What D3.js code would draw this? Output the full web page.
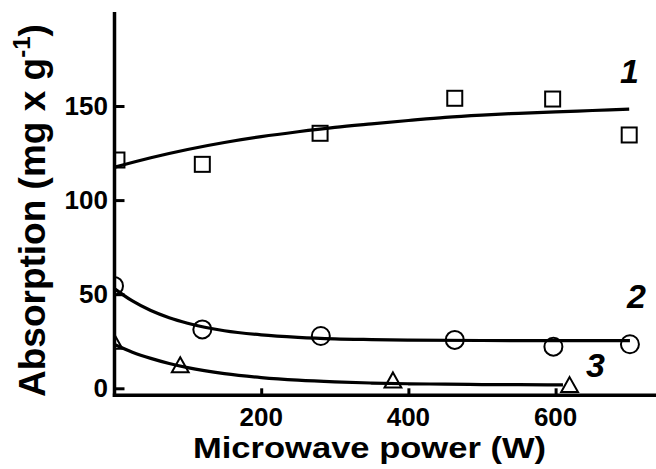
<!DOCTYPE html>
<html>
<head>
<meta charset="utf-8">
<script src="https://cdn.jsdelivr.net/npm/d3@7"></script>
<style>
  html, body { margin: 0; padding: 0; background: #fff; }
  svg { display: block; }
  text { font-family: "Liberation Sans", Arial, sans-serif; font-weight: bold; fill: #000; }
</style>
</head>
<body>
<svg id="chart" width="656" height="469"></svg>
<script>
// ---- data ----
const xTicks = [200, 400, 600];
const yTicks = [0, 50, 100, 150];

// series 1 (squares)
const power1 = [4, 120, 280, 463, 596, 700];
const abs1   = [121.3, 119.0, 135.5, 154.1, 153.7, 134.6];
// series 2 (circles)
const power2 = [0, 120, 281, 463, 597, 701];
const abs2   = [54.4, 31.3, 27.8, 25.7, 22.1, 23.4];
// series 3 (triangles)
const power3 = [0, 90, 379, 619];
const abs3   = [24.9, 12.4, 4.4, 1.9];

// fitted curves
const fitPower1 = [0, 50, 100, 150, 200, 250, 300, 350, 400, 450, 500, 550, 600, 650, 700];
const fitAbs1   = [117.4, 122.5, 126.9, 130.6, 133.7, 136.3, 138.6, 140.5, 142.3, 144.0, 145.2, 146.1, 146.9, 147.6, 148.3];
const fitPower2 = [0, 25, 50, 75, 100, 150, 200, 250, 300, 350, 400, 500, 600, 701];
const fitAbs2   = [53.1, 46.4, 41.3, 37.5, 34.6, 30.6, 28.4, 27.1, 26.3, 25.9, 25.6, 25.4, 25.3, 25.3];
const fitPower3 = [0, 25, 50, 75, 100, 150, 200, 250, 300, 350, 400, 450, 500, 550, 610];
const fitAbs3   = [23.4, 19.2, 15.9, 13.2, 11.0, 7.8, 5.7, 4.3, 3.4, 2.8, 2.4, 2.2, 2.0, 1.9, 1.8];

const curveLabels = ["1", "2", "3"];

// ---- layout ----
const svg = d3.select("#chart");
const x = d3.scaleLinear().domain([0, 700]).range([114, 629.2]);
const y = d3.scaleLinear().domain([0, 150]).range([388.3, 106]);

// clip so markers at x=0 are cut at the y axis
svg.append("defs").append("clipPath").attr("id", "plotclip")
  .append("rect").attr("x", 113).attr("y", 0).attr("width", 543).attr("height", 395);

// axes
const yAxis = d3.axisRight(y).tickValues(yTicks).tickSize(10).tickFormat("");
const gy = svg.append("g").attr("transform", "translate(114.5,0)").call(yAxis);
gy.select(".domain").remove();
gy.selectAll(".tick line").attr("stroke", "#000").attr("stroke-width", 3);

const xAxis = d3.axisTop(x).tickValues(xTicks).tickSize(7).tickFormat("");
const gx = svg.append("g").attr("transform", "translate(0,395.3)").call(xAxis);
gx.select(".domain").remove();
gx.selectAll(".tick line").attr("stroke", "#000").attr("stroke-width", 3);

svg.append("line").attr("x1", 114.5).attr("x2", 114.5).attr("y1", 12).attr("y2", 397)
  .attr("stroke", "#000").attr("stroke-width", 3.5);
svg.append("line").attr("x1", 112.8).attr("x2", 656).attr("y1", 395.3).attr("y2", 395.3)
  .attr("stroke", "#000").attr("stroke-width", 3.5);

// tick labels
svg.selectAll("text.ylab").data(yTicks).enter().append("text")
  .attr("class", "ylab").attr("x", 108).attr("y", d => y(d) + 9)
  .attr("text-anchor", "end").attr("font-size", 26).text(d => d);
svg.selectAll("text.xlab").data(xTicks).enter().append("text")
  .attr("class", "xlab").attr("x", d => x(d)).attr("y", 426)
  .attr("text-anchor", "middle").attr("font-size", 26).text(d => d);

// axis titles
svg.append("text").attr("x", 193).attr("y", 457.5).attr("font-size", 30)
  .attr("textLength", 353).attr("lengthAdjust", "spacingAndGlyphs")
  .text("Microwave power (W)");

const yt = svg.append("text").attr("transform", "translate(45,397) rotate(-90)")
  .attr("font-size", 37);
yt.append("tspan").text("Absorption (mg x g");
yt.append("tspan").attr("font-size", 24).attr("dy", -15).text("-1");
yt.append("tspan").attr("dy", 15).text(")");

// fitted lines
const line = d3.line().x(d => x(d[0])).y(d => y(d[1])).curve(d3.curveMonotoneX);
[[fitPower1, fitAbs1], [fitPower2, fitAbs2], [fitPower3, fitAbs3]].forEach(([p, a]) => {
  svg.append("path").datum(p.map((v, i) => [v, a[i]]))
    .attr("d", line).attr("fill", "none").attr("stroke", "#000")
    .attr("stroke-width", 3.2).attr("stroke-linejoin", "round");
});

// markers
const mk = svg.append("g").attr("clip-path", "url(#plotclip)");
mk.selectAll("rect.sq").data(power1.map((v, i) => [v, abs1[i]])).enter().append("rect")
  .attr("class", "sq").attr("x", d => x(d[0]) - 7.5).attr("y", d => y(d[1]) - 7.5)
  .attr("width", 15).attr("height", 15)
  .attr("fill", "none").attr("stroke", "#000").attr("stroke-width", 2);
mk.selectAll("circle.ci").data(power2.map((v, i) => [v, abs2[i]])).enter().append("circle")
  .attr("class", "ci").attr("cx", d => x(d[0])).attr("cy", d => y(d[1])).attr("r", 9)
  .attr("fill", "none").attr("stroke", "#000").attr("stroke-width", 2);
mk.selectAll("path.tr").data(power3.map((v, i) => [v, abs3[i]])).enter().append("path")
  .attr("class", "tr")
  .attr("transform", d => `translate(${x(d[0])},${y(d[1])})`)
  .attr("d", "M0,-7.6L8.4,7.4L-8.4,7.4Z")
  .attr("fill", "none").attr("stroke", "#000").attr("stroke-width", 2).attr("stroke-linejoin", "miter");

// curve labels
const labelPos = [[620, 83], [627, 308], [586, 377]];
svg.selectAll("text.cl").data(curveLabels).enter().append("text")
  .attr("class", "cl").attr("x", (d, i) => labelPos[i][0]).attr("y", (d, i) => labelPos[i][1])
  .attr("font-size", 34).attr("font-style", "italic").text(d => d);
</script>
</body>
</html>
